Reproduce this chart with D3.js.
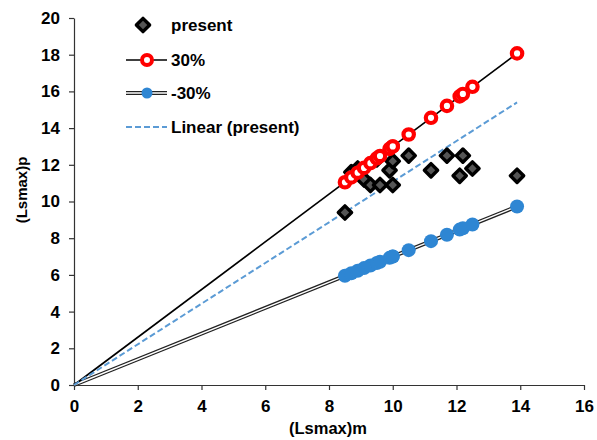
<!DOCTYPE html>
<html>
<head>
<meta charset="utf-8">
<script src="https://cdn.jsdelivr.net/npm/d3@7"></script>
<style>
  body { margin: 0; background: #fff; }
  text { font-family: "Liberation Sans", Arial, sans-serif; font-weight: bold; fill: #000; }
</style>
</head>
<body>
<svg id="chart" width="597" height="440"></svg>
<script>
// Measured (Lsmax)m and the matching (Lsmax)p values
const xValues      = [8.5, 8.7, 8.9, 9.1, 9.3, 9.5, 9.6, 9.9, 10.0, 10.0, 10.5, 11.2, 11.7, 12.1, 12.2, 12.5, 13.9];
const presentVals  = [9.4, 11.6, 11.8, 11.2, 10.9, 12.3, 10.9, 11.7, 12.2, 10.9, 12.5, 11.7, 12.5, 11.4, 12.5, 11.8, 11.4];
const plus30Vals   = [11.05, 11.31, 11.57, 11.83, 12.09, 12.35, 12.48, 12.87, 13.0, 13.0, 13.65, 14.56, 15.21, 15.73, 15.86, 16.25, 18.07];
const minus30Vals  = [5.95, 6.09, 6.23, 6.37, 6.51, 6.65, 6.72, 6.93, 7.0, 7.0, 7.35, 7.84, 8.19, 8.47, 8.54, 8.75, 9.73];
// Slope of the "Linear (present)" trend line (forced through the origin)
const trendSlope = 1.108;
const xTicks = [0, 2, 4, 6, 8, 10, 12, 14, 16];
const yTicks = [0, 2, 4, 6, 8, 10, 12, 14, 16, 18, 20];
const legendLabels = ["present", "30%", "-30%", "Linear (present)"];

const svg = d3.select("#chart");
const x = d3.scaleLinear().domain([0, 16]).range([74, 584]);
const y = d3.scaleLinear().domain([0, 20]).range([385, 18]);

const blue = "#2f86d3";
const red = "#ff0000";

// Axes
const xAxis = svg.append("g").attr("transform", `translate(0,${y(0)})`)
  .call(d3.axisBottom(x).tickValues(xTicks).tickSize(5).tickSizeOuter(0).tickPadding(8));
const yAxis = svg.append("g").attr("transform", `translate(${x(0)},0)`)
  .call(d3.axisLeft(y).tickValues(yTicks).tickSize(5).tickSizeOuter(0).tickPadding(9));
[xAxis, yAxis].forEach(g => {
  g.select(".domain").attr("stroke", "#333").attr("stroke-width", 1.2);
  g.selectAll(".tick line").attr("stroke", "#333").attr("stroke-width", 1.2);
  g.selectAll(".tick text").style("font-size", "17px").attr("fill", "#000");
});
xAxis.selectAll(".tick text").attr("dy", "0.8em");

// Axis titles
svg.append("text").attr("x", 328).attr("y", 434).attr("text-anchor", "middle")
  .style("font-size", "16.5px").text("(Lsmax)m");
svg.append("text").attr("transform", `translate(27,190) rotate(-90)`)
  .attr("text-anchor", "middle").style("font-size", "15px").text("(Lsmax)p");

// Series lines through the origin
const xMax = d3.max(xValues);
const iMax = xValues.indexOf(xMax);

// -30%: double line
const minusEnd = [xMax, minus30Vals[iMax]];
svg.append("line").attr("x1", x(0)).attr("y1", y(0))
  .attr("x2", x(minusEnd[0])).attr("y2", y(minusEnd[1]))
  .attr("stroke", "#222").attr("stroke-width", 4);
svg.append("line").attr("x1", x(0)).attr("y1", y(0))
  .attr("x2", x(minusEnd[0])).attr("y2", y(minusEnd[1]))
  .attr("stroke", "#fff").attr("stroke-width", 1.4);

// 30%: solid line
svg.append("line").attr("x1", x(0)).attr("y1", y(0))
  .attr("x2", x(xMax)).attr("y2", y(plus30Vals[iMax]))
  .attr("stroke", "#000").attr("stroke-width", 1.7);

// Linear trend of "present"
svg.append("line").attr("x1", x(0)).attr("y1", y(0))
  .attr("x2", x(xMax)).attr("y2", y(trendSlope * xMax))
  .attr("stroke", "#5b9bd5").attr("stroke-width", 2).attr("stroke-dasharray", "6,3");

// Markers
const diamond = d3.symbol().type(d3.symbolSquare).size(88);
function drawDiamond(g, cx, cy) {
  g.append("path").attr("d", diamond())
    .attr("transform", `translate(${cx},${cy}) rotate(45)`)
    .attr("fill", "#555").attr("stroke", "#000").attr("stroke-width", 3.4)
    .attr("stroke-linejoin", "round");
}
const blurDef = svg.append("defs").append("filter").attr("id", "soft");
blurDef.append("feGaussianBlur").attr("stdDeviation", 0.6);

const pres = svg.append("g");
xValues.forEach((v, i) => drawDiamond(pres, x(v), y(presentVals[i])));

svg.append("g").selectAll("circle").data(xValues).join("circle")
  .attr("cx", d => x(d)).attr("cy", (d, i) => y(minus30Vals[i])).attr("r", 7)
  .attr("fill", blue).attr("filter", "url(#soft)");

svg.append("g").selectAll("circle").data(xValues).join("circle")
  .attr("cx", d => x(d)).attr("cy", (d, i) => y(plus30Vals[i])).attr("r", 5.2)
  .attr("fill", "#fff").attr("stroke", red).attr("stroke-width", 4.2);

// Legend
const lg = svg.append("g");
const lx = 126, tx = 171, rows = [25, 60, 93, 127];
drawDiamond(lg, 143, rows[0]);
lg.append("line").attr("x1", lx).attr("x2", 167).attr("y1", rows[1]).attr("y2", rows[1])
  .attr("stroke", "#000").attr("stroke-width", 1.7);
lg.append("circle").attr("cx", 147).attr("cy", rows[1]).attr("r", 5)
  .attr("fill", "#fff").attr("stroke", red).attr("stroke-width", 4);
lg.append("line").attr("x1", lx).attr("x2", 167).attr("y1", rows[2]).attr("y2", rows[2])
  .attr("stroke", "#222").attr("stroke-width", 4);
lg.append("line").attr("x1", lx).attr("x2", 167).attr("y1", rows[2]).attr("y2", rows[2])
  .attr("stroke", "#fff").attr("stroke-width", 1.4);
lg.append("circle").attr("cx", 147).attr("cy", rows[2]).attr("r", 5.5)
  .attr("fill", blue).attr("filter", "url(#soft)");
lg.append("line").attr("x1", 126).attr("x2", 167).attr("y1", rows[3]).attr("y2", rows[3])
  .attr("stroke", "#5b9bd5").attr("stroke-width", 2).attr("stroke-dasharray", "6,3");
legendLabels.forEach((t, i) => {
  lg.append("text").attr("x", tx).attr("y", rows[i]).attr("dy", "0.36em")
    .style("font-size", "17px").text(t);
});
</script>
</body>
</html>
